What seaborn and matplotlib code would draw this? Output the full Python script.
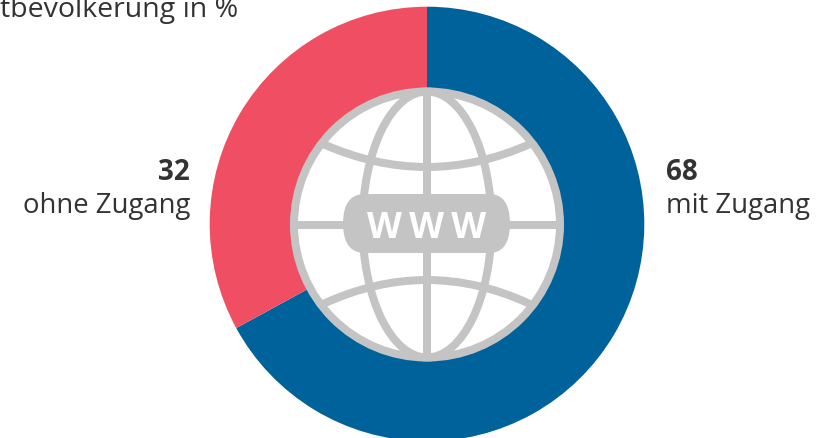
import seaborn as sns
from matplotlib import pyplot as plt
from matplotlib.patches import Circle, Ellipse, PathPatch
from matplotlib.path import Path

labels = ["mit Zugang", "ohne Zugang"]
label_values = [68, 32]
# Winkel im Bild entspricht nicht ganz den Zahlen, daher abgelesen
wedge_shares = [67.05, 32.95]
colors = ["#00629B", "#EF4E63"]
title = "tbevolkerung in %"

W, H = 823, 439
GREY = "#C4C4C4"
TEXT = "#333333"

sns.set_theme(style="white")
plt.rcParams["font.family"] = ["Open Sans", "DejaVu Sans"]
palette = sns.color_palette(colors)

fig = plt.figure(figsize=(W / 100, H / 100), dpi=100)
ax = fig.add_axes([0, 0, 1, 1])


def py(y):
    # Pixelzeile von oben -> Achsenkoordinate
    return H - y


cx, cy = 427, py(225)
ax.pie(
    wedge_shares,
    colors=palette,
    startangle=90,
    counterclock=False,
    center=(cx, cy),
    radius=217.3,
    frame=True,
    wedgeprops={"width": 90, "linewidth": 0},
)

# Globus
gx, gy = 427, py(225.5)
lw = 8 * 0.72
ax.add_patch(Circle((gx, gy), 133, fc="white", ec=GREY, lw=lw, zorder=3))
ax.add_patch(Ellipse((gx, gy), 129, 266, fc="none", ec=GREY, lw=lw, zorder=4))
ax.plot([gx, gx], [gy - 133, gy + 133], color=GREY, lw=lw, zorder=4, solid_capstyle="butt")
ax.plot([gx - 133, gx + 133], [gy, gy], color=GREY, lw=lw, zorder=4, solid_capstyle="butt")
for y_end, y_ctrl in [(145, 191), (305, 257)]:
    path = Path(
        [(323, py(y_end)), (gx, py(y_ctrl)), (530, py(y_end))],
        [Path.MOVETO, Path.CURVE3, Path.CURVE3],
    )
    ax.add_patch(PathPatch(path, fc="none", ec=GREY, lw=lw, zorder=4))

# Plakette hinter dem www
x0, x1, x2, x3 = 343, 368, 486, 510
y_top, y_bot = py(195), py(254)
y_mid = (y_top + y_bot) / 2
pill = Path(
    [
        (x1, y_top), (x2, y_top),
        (x3, y_top + 2), (x3, y_mid),
        (x3, y_bot - 2), (x2, y_bot),
        (x1, y_bot),
        (x0, y_bot - 2), (x0, y_mid),
        (x0, y_top + 2), (x1, y_top),
        (x1, y_top),
    ],
    [
        Path.MOVETO, Path.LINETO,
        Path.CURVE3, Path.CURVE3,
        Path.CURVE3, Path.CURVE3,
        Path.LINETO,
        Path.CURVE3, Path.CURVE3,
        Path.CURVE3, Path.CURVE3,
        Path.CLOSEPOLY,
    ],
)
ax.add_patch(PathPatch(pill, fc=GREY, ec="none", zorder=5))
ax.text(gx, py(238.5), "W\u2009W\u2009W", color="white", fontsize=26, fontweight="bold",
        ha="center", va="baseline", zorder=6)

# Beschriftung
ax.text(0, py(17), title, color=TEXT, fontsize=20.5, ha="left", va="baseline")
for label, value, x, ha in zip(labels, label_values, [666, 190], ["left", "right"]):
    ax.text(x, py(180), str(value), color=TEXT, fontsize=20, fontweight="bold", ha=ha, va="baseline")
    ax.text(x, py(212.5), label, color=TEXT, fontsize=19.8, ha=ha, va="baseline")

ax.set_xlim(0, W)
ax.set_ylim(0, H)
ax.set_aspect("equal")
ax.axis("off")
fig.savefig("out.png", dpi=100)
